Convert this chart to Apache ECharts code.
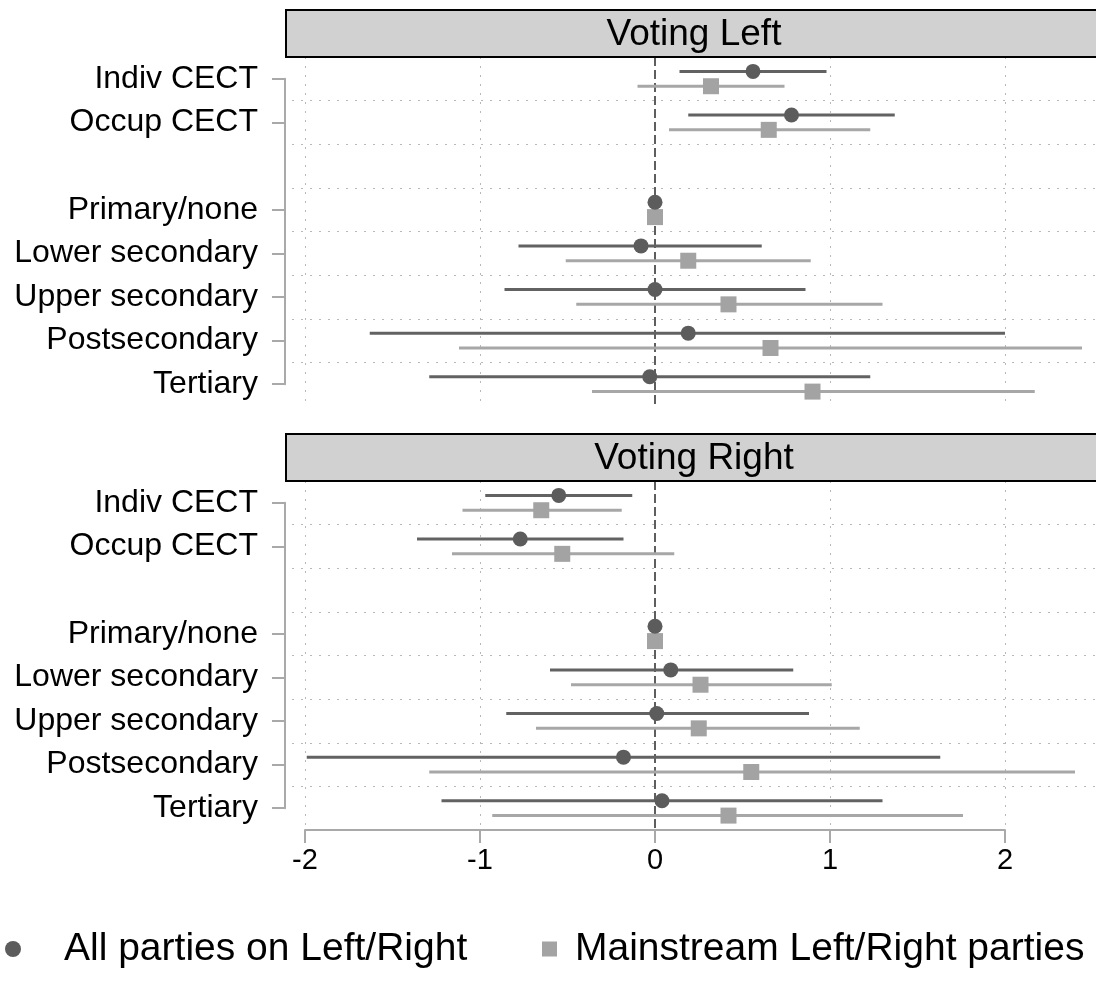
<!DOCTYPE html>
<html>
<head>
<meta charset="utf-8">
<script src="https://cdn.jsdelivr.net/npm/echarts@6/dist/echarts.min.js"></script>
<style>
  html, body { margin: 0; padding: 0; background: #ffffff; }
  #chart { width: 1096px; height: 995px; }
</style>
</head>
<body>
<div id="chart"></div>
<script>
// Row labels (blank entry keeps the spacer row between the two blocks)
const rowLabels = ['Indiv CECT', 'Occup CECT', '', 'Primary/none', 'Lower secondary', 'Upper secondary', 'Postsecondary', 'Tertiary'];
const panelTitles = ['Voting Left', 'Voting Right'];
const seriesNames = ['All parties on Left/Right', 'Mainstream Left/Right parties'];
const xTicks = [-2, -1, 0, 1, 2];

// Voting Left: all parties (estimate, lower, upper)
const allLeftEst = [0.56, 0.78, null, 0, -0.08, 0.00, 0.19, -0.03];
const allLeftLo  = [0.14, 0.19, null, null, -0.78, -0.86, -1.63, -1.29];
const allLeftHi  = [0.98, 1.37, null, null, 0.61, 0.86, 2.00, 1.23];
// Voting Left: mainstream parties
const mainLeftEst = [0.32, 0.65, null, 0, 0.19, 0.42, 0.66, 0.90];
const mainLeftLo  = [-0.10, 0.08, null, null, -0.51, -0.45, -1.12, -0.36];
const mainLeftHi  = [0.74, 1.23, null, null, 0.89, 1.30, 2.44, 2.17];

// Voting Right: all parties
const allRightEst = [-0.55, -0.77, null, 0, 0.09, 0.01, -0.18, 0.04];
const allRightLo  = [-0.97, -1.36, null, null, -0.60, -0.85, -1.99, -1.22];
const allRightHi  = [-0.13, -0.18, null, null, 0.79, 0.88, 1.63, 1.30];
// Voting Right: mainstream parties
const mainRightEst = [-0.65, -0.53, null, 0, 0.26, 0.25, 0.55, 0.42];
const mainRightLo  = [-1.10, -1.16, null, null, -0.48, -0.68, -1.29, -0.93];
const mainRightHi  = [-0.19, 0.11, null, null, 1.01, 1.17, 2.40, 1.76];

const FONT = "'Liberation Sans', Arial, Helvetica, sans-serif";
const DARK_LINE = '#626262', DARK_MARK = '#5c5c5c';
const LIGHT_LINE = '#a7a7a7', LIGHT_MARK = '#a3a3a3';
const GRID_COLOR = '#b8b8b8';
const AXIS_COLOR = '#a9a9a9';

const nRows = rowLabels.length;
const shift = 0.17; // vertical offset of the two estimates within a row

// layout
const plotLeft = 292, plotRight = 1096, scalePx = 175, zeroPx = 655;
const xMin = (plotLeft - zeroPx) / scalePx;
const xMax = (plotRight - zeroPx) / scalePx;
const panels = [
  { headerTop: 10, top: 57 },
  { headerTop: 434, top: 481 }
];
const plotH = 349;
const rowH = plotH / nRows;

const panelData = [
  { all: [allLeftEst, allLeftLo, allLeftHi], main: [mainLeftEst, mainLeftLo, mainLeftHi] },
  { all: [allRightEst, allRightLo, allRightHi], main: [mainRightEst, mainRightLo, mainRightHi] }
];

function ciData(est, lo, hi, off) {
  const out = [];
  for (let i = 0; i < est.length; i++) {
    if (lo[i] != null && hi[i] != null) out.push([i, lo[i], hi[i], i + 0.5 + off]);
  }
  return out;
}
function pointData(est, off) {
  const out = [];
  for (let i = 0; i < est.length; i++) {
    if (est[i] != null) out.push([est[i], i + 0.5 + off]);
  }
  return out;
}
function ciRender(color) {
  return function (params, api) {
    const y = api.value(3);
    const p1 = api.coord([api.value(1), y]);
    const p2 = api.coord([api.value(2), y]);
    return {
      type: 'line',
      shape: { x1: p1[0], y1: p1[1], x2: p2[0], y2: p2[1] },
      style: { stroke: color, lineWidth: 3 }
    };
  };
}

const grids = [], xAxes = [], yAxes = [], series = [], graphics = [];
const splitColors = ['rgba(0,0,0,0)'];
for (let i = 1; i < nRows; i++) splitColors.push(GRID_COLOR);
splitColors.push('rgba(0,0,0,0)');

panels.forEach((p, k) => {
  // main plotting grid
  const gi = grids.length;
  grids.push({ left: plotLeft, right: 0, top: p.top, height: plotH, containLabel: false });
  xAxes.push({
    type: 'value', gridIndex: gi, min: xMin, max: xMax,
    axisLine: { show: false }, axisTick: { show: false }, axisLabel: { show: false }, splitLine: { show: false }
  });
  yAxes.push({
    type: 'value', gridIndex: gi, min: 0, max: nRows, interval: 1, inverse: true,
    axisLine: { show: false }, axisTick: { show: false }, axisLabel: { show: false },
    splitLine: { show: true, lineStyle: { color: splitColors, width: 1, type: [2, 7] } }
  });
  const d = panelData[k];
  series.push({
    type: 'scatter', name: seriesNames[0], xAxisIndex: xAxes.length - 1, yAxisIndex: yAxes.length - 1,
    symbol: 'circle', symbolSize: 15, itemStyle: { color: DARK_MARK, opacity: 1 },
    data: pointData(d.all[0], -shift), z: 4, silent: true
  });
  series.push({
    type: 'scatter', name: seriesNames[1], xAxisIndex: xAxes.length - 1, yAxisIndex: yAxes.length - 1,
    symbol: 'rect', symbolSize: 16, itemStyle: { color: LIGHT_MARK, opacity: 1 },
    data: pointData(d.main[0], shift), z: 3, silent: true
  });
  series.push({
    type: 'custom', name: seriesNames[0], xAxisIndex: xAxes.length - 1, yAxisIndex: yAxes.length - 1,
    renderItem: ciRender(DARK_LINE), data: ciData(d.all[0], d.all[1], d.all[2], -shift), z: 2,
    itemStyle: { color: DARK_MARK },
    encode: { x: [1, 2], y: 3 }, silent: true,
    markLine: {
      silent: true, symbol: 'none', label: { show: false }, z: 1,
      data: xTicks.map(v => v === 0
        ? { xAxis: v, lineStyle: { type: [9, 4], color: '#5e5e5e', width: 2 } }
        : { xAxis: v, lineStyle: { type: [2, 7], color: GRID_COLOR, width: 1 } })
    }
  });
  series.push({
    type: 'custom', name: seriesNames[1], xAxisIndex: xAxes.length - 1, yAxisIndex: yAxes.length - 1,
    renderItem: ciRender(LIGHT_LINE), data: ciData(d.main[0], d.main[1], d.main[2], shift), z: 2,
    itemStyle: { color: LIGHT_MARK },
    encode: { x: [1, 2], y: 3 }, silent: true
  });

  // row-label axis spanning first to last row centre
  const li = grids.length;
  grids.push({ left: 285, width: 1, top: p.top + rowH * 0.5, height: rowH * (nRows - 1), containLabel: false });
  xAxes.push({ type: 'value', gridIndex: li, show: false });
  yAxes.push({
    type: 'category', gridIndex: li, data: rowLabels, boundaryGap: false, inverse: true,
    axisLine: { show: true, lineStyle: { color: AXIS_COLOR, width: 2 } },
    axisTick: { show: true, length: 13, lineStyle: { color: AXIS_COLOR, width: 2 },
      interval: (idx, val) => val !== '' },
    axisLabel: { show: true, fontFamily: FONT, fontSize: 32, color: '#000', margin: 27, interval: 0 },
    splitLine: { show: false }
  });

  // panel header strip
  graphics.push({
    type: 'rect', z: 100,
    shape: { x: 286, y: p.headerTop, width: 830, height: p.top - p.headerTop },
    style: { fill: '#d1d1d1', stroke: '#000', lineWidth: 2 }
  });
  graphics.push({
    type: 'text', z: 101, x: 694, y: p.headerTop + (p.top - p.headerTop) / 2 + 1,
    style: { text: panelTitles[k], font: '37px ' + FONT, fill: '#000', align: 'center', verticalAlign: 'middle' }
  });
});

// shared bottom x axis, drawn only from -2 to 2
const ai = grids.length;
grids.push({ left: 305, width: 700, top: 829, height: 1, containLabel: false });
xAxes.push({
  type: 'value', gridIndex: ai, min: xTicks[0], max: xTicks[xTicks.length - 1], interval: 1,
  axisLine: { show: true, lineStyle: { color: AXIS_COLOR, width: 2 } },
  axisTick: { show: true, length: 13, lineStyle: { color: AXIS_COLOR, width: 2 } },
  axisLabel: { fontFamily: FONT, fontSize: 29, color: '#000', margin: 16 },
  splitLine: { show: false }
});
yAxes.push({ type: 'value', gridIndex: ai, show: false });

const chart = echarts.init(document.getElementById('chart'), null, { renderer: 'canvas' });
chart.setOption({
  backgroundColor: '#ffffff',
  animation: false,
  grid: grids,
  xAxis: xAxes,
  yAxis: yAxes,
  series: series,
  graphic: graphics,
  legend: [
    {
      data: [{ name: seriesNames[0], icon: 'circle', itemStyle: { color: DARK_MARK } }],
      left: 0, top: 922, itemWidth: 16, itemHeight: 16, selectedMode: false,
      textStyle: { fontFamily: FONT, fontSize: 39, color: '#000', padding: [0, 0, 0, 38], lineHeight: 44 }
    },
    {
      data: [{ name: seriesNames[1], icon: 'rect', itemStyle: { color: LIGHT_MARK } }],
      left: 537, top: 922, itemWidth: 15, itemHeight: 15, selectedMode: false,
      textStyle: { fontFamily: FONT, fontSize: 39, color: '#000', padding: [0, 0, 0, 13], lineHeight: 44 }
    }
  ]
});
</script>
</body>
</html>
